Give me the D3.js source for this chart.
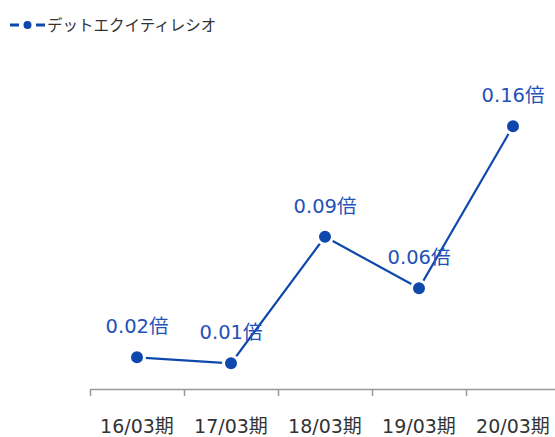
<!DOCTYPE html>
<html><head><meta charset="utf-8">
<script src="https://cdn.jsdelivr.net/npm/d3@7"></script>
<style>body{margin:0;background:#fff}svg{display:block}</style>
</head><body>
<svg id="c" width="555" height="437"></svg>
<script>
const categories = ["16/03期","17/03期","18/03期","19/03期","20/03期"];
const values = [0.0150, 0.0112, 0.0910, 0.0585, 0.1607];
const valueLabels = ["0.02倍","0.01倍","0.09倍","0.06倍","0.16倍"];
const seriesName = "デットエクイティレシオ";

const svg = d3.select("#c");
const font = "'DejaVu Sans','Noto Sans CJK JP',sans-serif";
const cjkFont = "'Noto Sans CJK JP','DejaVu Sans',sans-serif";
const lineColor = "#0f48ad";
const labelColor = "#1f52b8";

const x = d3.scaleBand().domain(categories).range([90, 560]);
const y = d3.scaleLinear().domain([-0.005, 0.18]).range([389, 95.6]);

// axis
svg.append("line").attr("x1",90).attr("x2",560).attr("y1",389.5).attr("y2",389.5)
  .attr("stroke","#999").attr("stroke-width",1.5);
const bounds = categories.map(c => x(c)).concat([x(categories[categories.length-1]) + x.bandwidth()]);
svg.selectAll(".tk").data(bounds).enter().append("line")
  .attr("x1",d=>Math.round(d)+0.5).attr("x2",d=>Math.round(d)+0.5)
  .attr("y1",389).attr("y2",396).attr("stroke","#999").attr("stroke-width",1.5);
svg.selectAll(".cl").data(categories).enter().append("text")
  .attr("x",d=>x(d)+x.bandwidth()/2).attr("y",433)
  .attr("text-anchor","middle").attr("font-family",font).attr("font-size",19)
  .attr("fill","#333").text(d=>d);

// line
const pts = categories.map((c,i)=>[x(c)+x.bandwidth()/2, y(values[i])]);
svg.append("path").attr("d", d3.line()(pts)).attr("fill","none")
  .attr("stroke",lineColor).attr("stroke-width",2.2);
svg.selectAll(".pt").data(pts).enter().append("circle")
  .attr("cx",d=>d[0]).attr("cy",d=>d[1]).attr("r",7.5)
  .attr("fill",lineColor).attr("stroke","#fff").attr("stroke-width",3);
svg.selectAll(".vl").data(pts).enter().append("text")
  .attr("x",d=>d[0]).attr("y",(d)=>d[1]-24)
  .attr("text-anchor","middle").attr("font-family",font).attr("font-size",19.5)
  .attr("fill",labelColor).text((d,i)=>valueLabels[i]);

// legend
const lg = svg.append("g");
lg.append("line").attr("x1",10).attr("x2",45).attr("y1",25).attr("y2",25)
  .attr("stroke",lineColor).attr("stroke-width",3).attr("stroke-dasharray","9,4,9,4,9");
lg.append("circle").attr("cx",27.5).attr("cy",25).attr("r",5).attr("fill",lineColor)
  .attr("stroke","#fff").attr("stroke-width",2);
lg.append("text").attr("x",47).attr("y",31).attr("font-family",cjkFont).attr("font-size",15.5)
  .attr("fill","#333").text(seriesName);
</script>
</body></html>
